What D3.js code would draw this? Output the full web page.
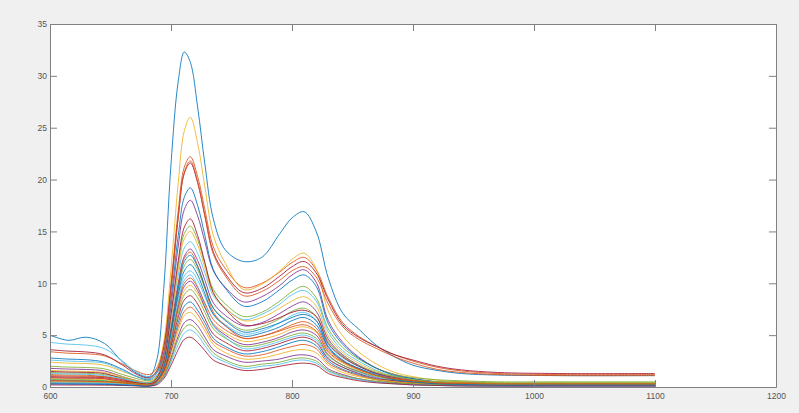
<!DOCTYPE html>
<html><head><meta charset="utf-8">
<script src="https://cdn.jsdelivr.net/npm/d3@7"></script>
<style>
html,body{margin:0;padding:0;background:#f0f0f0;}
svg{display:block;}
.tick text{font-family:"Liberation Sans",Arial,Helvetica,sans-serif;font-size:8.5px;fill:#555;}
</style></head>
<body>
<svg id="chart" width="799" height="413"></svg>
<script>
// ---- data ----
const wavelengths = [600,615,630,645,660,672,682,688,694,700,706,711,716,722,728,735,745,760,775,790,800,810,820,830,842,855,870,885,900,920,940,970,1020,1100];
const xTicks = [600,700,800,900,1000,1100,1200];
const yTicks = [0,5,10,15,20,25,30,35];
const colorOrder = ["#0072BD","#D95319","#EDB120","#7E2F8E","#77AC30","#4DBEEE","#A2142F"];

const s00 = [5.0,4.5,4.8,4.2,2.4,1.3,1.0, 2.5,9.5,21.5,29.5,32.3,31.3, 27.0,21.5,16.2,13.2,12.1, 12.5,14.8,16.3,16.9,15.0, 10.5,7.1,5.6,4.0,2.9,2.1,1.6,1.3,1.15,1.1,1.1];
const s01 = [3.4,3.26,3.2,3.0,2.2,1.5,1.2, 1.8,4.1,10.0,17.0,21.2,22.2, 20.3,17.1,13.5,11.4,9.6, 10.0,11.1,12.0,12.5,11.3, 8.6,6.2,4.9,3.9,3.1,2.5,1.9,1.55,1.3,1.2,1.2];
const s02 = [2.4,2.3,2.26,2.1,1.5,1.0,0.8, 1.6,4.3,11.4,19.7,24.7,26.0, 23.5,19.3,14.6,11.9,9.4, 9.9,11.2,12.3,12.9,11.4, 7.3,4.9,3.4,2.2,1.4,1.0,0.65,0.5,0.4,0.4,0.4];
const s03 = [1.8,1.73,1.69,1.55,1.0,0.6,0.4, 0.9,2.9,7.8,13.6,17.1,18.0, 16.5,14.0,11.2,9.6,8.2, 8.7,9.8,10.8,11.3,10.1, 6.4,4.3,2.9,1.8,1.2,0.8,0.5,0.4,0.3,0.3,0.3];
const s04 = [2.0,1.92,1.88,1.75,1.2,0.8,0.6, 1.0,2.7,6.9,11.8,14.8,15.5, 14.2,11.9,9.4,8.0,6.8, 7.2,8.3,9.2,9.7,8.6, 5.6,3.8,2.7,1.8,1.2,0.9,0.7,0.6,0.5,0.5,0.5];
const s05 = [4.3,4.13,4.04,3.7,2.5,1.4,1.0, 1.4,2.8,6.5,10.8,13.4,14.0, 12.9,11.0,8.8,7.6,6.5, 7.0,8.0,8.9,9.3,8.3, 5.3,3.5,2.5,1.6,1.0,0.7,0.5,0.4,0.3,0.3,0.3];
const s06 = [3.6,3.46,3.38,3.1,2.1,1.2,0.9, 1.5,3.8,9.6,16.4,20.6,21.6, 19.7,16.5,13.0,10.9,9.1, 9.5,10.7,11.6,12.1,11.0, 8.4,6.0,4.8,3.9,3.1,2.6,2.0,1.65,1.4,1.3,1.3];
const s07 = [2.8,2.69,2.63,2.4,1.7,1.0,0.7, 1.3,3.3,8.5,14.6,18.3,19.2, 17.5,14.6,11.3,9.5,7.8, 8.2,9.4,10.3,10.8,9.7, 6.1,4.1,2.8,1.8,1.1,0.8,0.5,0.4,0.3,0.3,0.3];
const s08 = [1.2,1.15,1.13,1.0,0.7,0.4,0.3, 0.9,3.3,9.3,16.4,20.7,21.8, 19.8,16.5,12.8,10.7,8.8, 9.2,10.3,11.2,11.6,10.6, 8.0,5.8,4.6,3.7,2.9,2.3,1.7,1.4,1.2,1.1,1.1];
const s09 = [1.6,1.54,1.5,1.4,1.0,0.6,0.5, 0.9,2.5,6.6,11.4,14.3,15.0, 13.7,11.5,9.0,7.6,6.4, 6.7,7.6,8.3,8.7,7.8, 4.9,3.3,2.3,1.5,1.0,0.7,0.5,0.4,0.3,0.3,0.3];
const s10 = [0.9,0.86,0.85,0.8,0.5,0.3,0.2, 0.6,2.0,5.7,10.0,12.6,13.3, 12.2,10.3,8.1,6.9,5.9, 6.2,7.1,7.8,8.2,7.3, 4.6,3.1,2.1,1.3,0.8,0.6,0.4,0.3,0.2,0.2,0.2];
const s11 = [1.4,1.34,1.32,1.2,0.9,0.5,0.4, 0.8,2.1,5.4,9.3,11.7,12.3, 11.3,9.5,7.6,6.5,5.5, 5.8,6.6,7.3,7.6,6.8, 4.4,3.0,2.1,1.4,1.0,0.7,0.5,0.5,0.4,0.4,0.4];
const s12 = [2.6,2.5,2.44,2.3,1.6,1.0,0.8, 1.1,2.3,5.2,8.6,10.7,11.2, 10.3,8.7,7.0,6.0,5.1, 5.4,6.2,6.9,7.2,6.4, 4.1,2.8,2.0,1.3,0.9,0.6,0.4,0.4,0.3,0.3,0.3];
const s13 = [1.5,1.44,1.41,1.3,0.8,0.4,0.3, 0.8,2.5,7.0,12.2,15.4,16.2, 14.6,12.0,9.1,7.5,6.0, 6.1,6.7,7.2,7.4,6.8, 4.2,2.9,2.0,1.3,0.9,0.6,0.4,0.4,0.3,0.3,0.3];
const s14 = [0.7,0.67,0.66,0.6,0.4,0.3,0.2, 0.5,1.8,5.1,8.9,11.2,11.8, 10.8,9.0,7.0,5.9,4.9, 5.2,5.8,6.4,6.7,6.0, 3.8,2.5,1.8,1.1,0.7,0.5,0.3,0.3,0.2,0.2,0.2];
const s15 = [1.1,1.06,1.03,1.0,0.7,0.4,0.3, 0.7,2.1,5.6,9.8,12.4,13.0, 11.7,9.6,7.2,5.9,4.7, 4.9,5.5,6.0,6.3,5.7, 3.6,2.5,1.7,1.1,0.8,0.6,0.4,0.4,0.3,0.3,0.3];
const s16 = [0.8,0.77,0.75,0.7,0.5,0.4,0.3, 0.6,1.6,4.3,7.4,9.3,9.8, 9.0,7.6,6.1,5.2,4.4, 4.6,5.1,5.6,5.8,5.3, 3.3,2.3,1.6,1.1,0.7,0.5,0.4,0.4,0.3,0.3,0.3];
const s17 = [0.6,0.58,0.56,0.5,0.4,0.3,0.2, 0.5,1.6,4.4,7.7,9.7,10.2, 9.3,7.7,6.0,5.0,4.1, 4.3,4.8,5.3,5.5,5.0, 3.1,2.1,1.5,0.9,0.6,0.4,0.3,0.3,0.2,0.2,0.2];
const s18 = [0.5,0.48,0.47,0.45,0.35,0.25,0.2, 0.5,1.5,4.1,7.1,8.9,9.4, 8.6,7.2,5.6,4.7,3.9, 4.1,4.6,5.0,5.2,4.7, 3.0,2.1,1.5,1.0,0.7,0.5,0.4,0.35,0.3,0.3,0.3];
const s19 = [1.3,1.25,1.22,1.1,0.8,0.5,0.4, 0.7,1.9,4.8,8.2,10.3,10.8, 9.7,7.9,5.9,4.8,3.7, 3.9,4.4,4.8,5.0,4.5, 2.8,1.9,1.4,0.9,0.6,0.4,0.3,0.25,0.2,0.2,0.2];
const s20 = [1.0,0.96,0.94,0.9,0.6,0.4,0.3, 0.6,1.5,3.9,6.7,8.4,8.8, 8.0,6.6,5.1,4.3,3.5, 3.7,4.2,4.6,4.8,4.3, 2.7,1.9,1.3,0.8,0.6,0.4,0.3,0.25,0.2,0.2,0.2];
const s21 = [0.4,0.38,0.38,0.35,0.25,0.15,0.1, 0.3,1.2,3.5,6.2,7.8,8.2, 7.4,6.2,4.7,3.9,3.2, 3.4,3.9,4.3,4.5,4.0, 2.5,1.7,1.2,0.7,0.45,0.3,0.2,0.15,0.1,0.1,0.1];
const s22 = [0.9,0.86,0.85,0.8,0.5,0.3,0.2, 0.4,1.3,3.4,5.8,7.3,7.7, 7.0,5.8,4.4,3.7,3.0, 3.1,3.6,3.9,4.1,3.7, 2.3,1.6,1.1,0.7,0.5,0.4,0.3,0.25,0.2,0.2,0.2];
const s23 = [0.5,0.48,0.47,0.45,0.35,0.25,0.2, 0.4,1.2,3.1,5.4,6.9,7.2, 6.5,5.4,4.1,3.3,2.7, 2.8,3.2,3.5,3.6,3.3, 2.1,1.4,1.0,0.7,0.5,0.35,0.25,0.2,0.2,0.2,0.2];
const s24 = [0.3,0.29,0.28,0.26,0.2,0.13,0.1, 0.3,1.0,2.8,4.9,6.2,6.5, 5.9,4.8,3.6,3.0,2.4, 2.5,2.7,3.0,3.1,2.8, 1.75,1.2,0.8,0.5,0.35,0.25,0.15,0.13,0.1,0.1,0.1];
const s25 = [0.7,0.67,0.66,0.6,0.4,0.3,0.2, 0.4,1.0,2.6,4.6,5.7,6.0, 5.4,4.4,3.3,2.6,2.0, 2.2,2.4,2.7,2.8,2.5, 1.6,1.1,0.8,0.56,0.4,0.3,0.25,0.2,0.2,0.2,0.2];
const s26 = [0.4,0.38,0.38,0.35,0.25,0.15,0.1, 0.3,0.9,2.4,4.1,5.2,5.5, 5.0,4.0,3.0,2.4,1.8, 2.0,2.2,2.5,2.6,2.3, 1.5,1.0,0.7,0.45,0.3,0.2,0.15,0.1,0.1,0.1,0.1];
const s27 = [0.2,0.19,0.19,0.18,0.15,0.11,0.1, 0.2,0.8,2.1,3.6,4.6,4.8, 4.3,3.5,2.6,2.1,1.6, 1.7,2.0,2.2,2.3,2.1, 1.3,0.9,0.6,0.4,0.3,0.2,0.15,0.1,0.1,0.1,0.1];
const s28 = [0.3,0.29,0.28,0.26,0.2,0.13,0.1, 0.5,1.9,5.4,9.5,12.1,12.7, 11.6,9.7,7.6,6.4,5.3, 5.6,6.2,6.7,7.0,6.4, 3.9,2.6,1.8,1.2,0.7,0.5,0.3,0.25,0.2,0.2,0.2];
const s29 = [0.6,0.58,0.56,0.5,0.4,0.25,0.2, 0.5,1.6,4.5,7.9,10.0,10.5, 9.6,8.1,6.5,5.5,4.7, 4.9,5.4,5.8,6.0,5.4, 3.4,2.4,1.7,1.1,0.8,0.6,0.4,0.35,0.3,0.3,0.3];

const seriesList = [s00,s01,s02,s03,s04,s05,s06,s07,s08,s09,s10,s11,s12,s13,s14,s15,s16,s17,s18,s19,s20,s21,s22,s23,s24,s25,s26,s27,s28,s29];

// ---- drawing ----
const W = 799, H = 413;
const m = {left:50, right:23, top:24, bottom:26};
const svg = d3.select("#chart");
svg.append("rect").attr("width",W).attr("height",H).attr("fill","#f0f0f0");

const x = d3.scaleLinear().domain([600,1200]).range([m.left, W - m.right]);
const y = d3.scaleLinear().domain([0,35]).range([H - m.bottom, m.top]);

svg.append("rect")
  .attr("x", x(600)).attr("y", y(35))
  .attr("width", x(1200) - x(600)).attr("height", y(0) - y(35))
  .attr("fill", "#ffffff");

const line = d3.line()
  .x((d,i) => x(wavelengths[i]))
  .y(d => y(d))
  .curve(d3.curveCatmullRom.alpha(0.5));

svg.append("g").selectAll("path")
  .data(seriesList)
  .join("path")
  .attr("d", line)
  .attr("fill","none")
  .attr("stroke",(d,i) => colorOrder[i % colorOrder.length])
  .attr("stroke-width",0.85)
  .attr("stroke-linejoin","round");

const axisColor = "#808080";
function styleAxis(g){
  g.select(".domain").attr("stroke",axisColor).attr("stroke-width",1);
  g.selectAll(".tick line").attr("stroke",axisColor).attr("stroke-width",1);
}

svg.append("g").attr("transform",`translate(0,${y(0)})`)
  .call(d3.axisBottom(x).tickValues(xTicks).tickFormat(d3.format("d")).tickSizeInner(-7).tickSizeOuter(0).tickPadding(6))
  .call(styleAxis);
svg.append("g").attr("transform",`translate(0,${y(35)})`)
  .call(d3.axisTop(x).tickValues(xTicks).tickFormat("").tickSizeInner(-7).tickSizeOuter(0))
  .call(styleAxis);
svg.append("g").attr("transform",`translate(${x(600)},0)`)
  .call(d3.axisLeft(y).tickValues(yTicks).tickFormat(d3.format("d")).tickSizeInner(-7).tickSizeOuter(0).tickPadding(3))
  .call(styleAxis);
svg.append("g").attr("transform",`translate(${x(1200)},0)`)
  .call(d3.axisRight(y).tickValues(yTicks).tickFormat("").tickSizeInner(-7).tickSizeOuter(0))
  .call(styleAxis);

svg.selectAll(".tick text").attr("font-family",null).attr("font-size",null);
</script>
</body></html>
